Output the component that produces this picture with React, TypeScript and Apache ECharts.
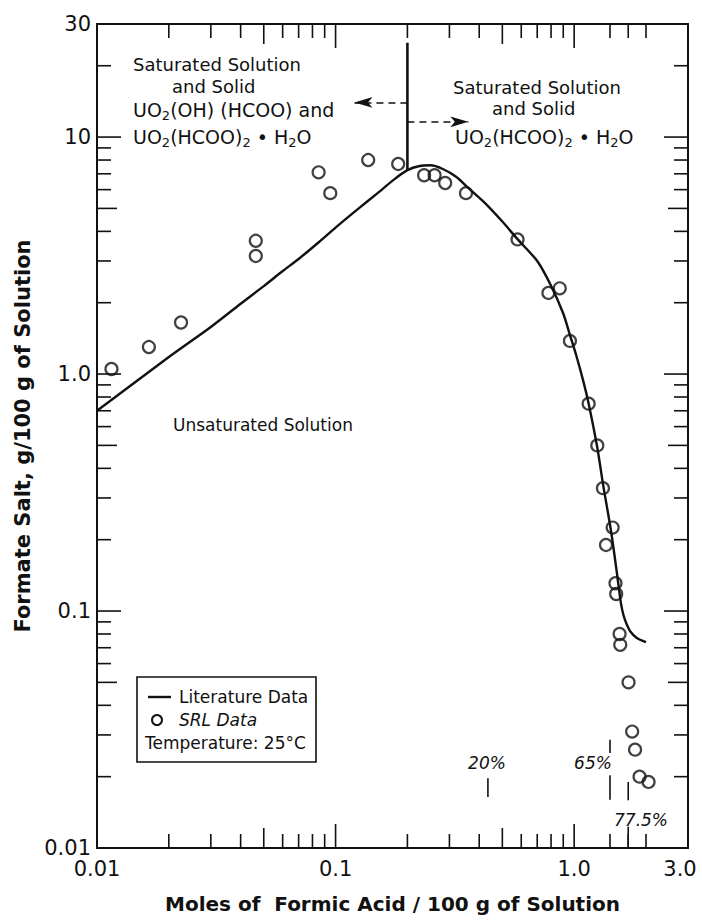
import React, { useEffect, useRef } from "react";
import * as echarts from "echarts";

const FONT = '"DejaVu Sans", "Open Sans", sans-serif';
const INK = "#111111";

// Axis ranges (log-log)
const xMin = 0.01;
const xMax = 3;
const yMin = 0.01;
const yMax = 30;

// Tick labels
const xTickValues = [0.01, 0.1, 1, 3];
const xTickLabels = ["0.01", "0.1", "1.0", "3.0"];
const yTickValues = [0.01, 0.1, 1, 10, 30];
const yTickLabels = ["0.01", "0.1", "1.0", "10", "30"];

// Inward tick marks (kind: 1 minor, 2 half-decade, 3 decade)
const xMinorValues = [0.02, 0.03, 0.04, 0.05, 0.06, 0.07, 0.08, 0.09, 0.1, 0.2, 0.3, 0.4, 0.5, 0.6, 0.7, 0.8, 0.9, 1, 1.413, 1.685, 2];
const xMinorKinds = [1, 1, 1, 2, 1, 1, 1, 1, 3, 1, 1, 1, 2, 1, 1, 1, 1, 3, 1, 1, 1];
const yMinorValues = [0.02, 0.03, 0.04, 0.05, 0.06, 0.07, 0.08, 0.09, 0.1, 0.2, 0.3, 0.4, 0.5, 0.6, 0.7, 0.8, 0.9, 1, 2, 3, 4, 5, 6, 7, 8, 9, 10, 20];
const yMinorKinds = [1, 1, 1, 2, 1, 1, 1, 1, 3, 1, 1, 1, 2, 1, 1, 1, 1, 3, 1, 1, 1, 2, 1, 1, 1, 1, 3, 1];

// Literature data (solid curve)
const litX = [0.01, 0.02, 0.03, 0.04, 0.05, 0.06, 0.07, 0.085, 0.1, 0.125, 0.15, 0.175, 0.2, 0.225, 0.25, 0.28, 0.32, 0.36, 0.42, 0.5, 0.58, 0.7, 0.8, 0.9, 0.96, 1.02, 1.09, 1.15, 1.25, 1.32, 1.43, 1.51, 1.57, 1.61, 1.66, 1.72, 1.83, 2.0];
const litY = [0.7, 1.18, 1.58, 1.98, 2.35, 2.72, 3.06, 3.6, 4.15, 5.0, 5.8, 6.6, 7.25, 7.55, 7.6, 7.35, 6.8, 6.1, 5.3, 4.4, 3.7, 3.0, 2.36, 1.8, 1.46, 1.2, 0.94, 0.75, 0.49, 0.345, 0.215, 0.145, 0.108, 0.096, 0.088, 0.082, 0.077, 0.074];

// SRL data (open circles)
const srlX = [0.0115, 0.0165, 0.0225, 0.0463, 0.0463, 0.0849, 0.095, 0.137, 0.183, 0.235, 0.26, 0.288, 0.352, 0.579, 0.78, 0.87, 0.96, 1.15, 1.25, 1.32, 1.45, 1.36, 1.49, 1.5, 1.55, 1.56, 1.69, 1.75, 1.8, 1.88, 2.05];
const srlY = [1.05, 1.3, 1.65, 3.65, 3.15, 7.1, 5.8, 8.0, 7.7, 6.9, 6.9, 6.4, 5.8, 3.7, 2.2, 2.3, 1.38, 0.75, 0.5, 0.33, 0.225, 0.19, 0.131, 0.118, 0.08, 0.072, 0.05, 0.031, 0.026, 0.02, 0.019];

// Phase boundary (vertical line) and arrows
const boundaryX = [0.2, 0.2];
const boundaryY = [7.25, 25];
const arrowFromX = [0.2, 0.2];
const arrowToX = [0.12, 0.36];
const arrowY = [14, 11.6];

// Weight-percent marker segments
const wtX = [0.435, 1.413, 1.413, 1.685, 1.685];
const wtYTop = [0.0197, 0.0286, 0.0203, 0.019, 0.0123];
const wtYBottom = [0.0164, 0.0252, 0.016, 0.0159, 0.01];

const tickLen = (k: number) => (k === 3 ? 24 : k === 2 ? 20 : 14);

const fmt = (vals: number[], labels: string[], maxV: number) => (v: number) => {
  const i = vals.findIndex((t) => Math.abs(Math.log10(t) - Math.log10(v)) < 1e-6);
  if (i < 0) return "";
  return Math.abs(v - maxV) < 1e-9 ? "{r|" + labels[i] + "}" : labels[i];
};

const rich = {
  n: { fontSize: 19, fontFamily: FONT, fill: INK, lineHeight: 24 },
  s: { fontSize: 13, fontFamily: FONT, fill: INK, lineHeight: 12, verticalAlign: "bottom" },
};

const txt = (x: number, y: number, text: string, extra: any = {}) => ({
  type: "text",
  x,
  y,
  silent: true,
  style: {
    text,
    fill: INK,
    fontSize: 18,
    fontFamily: FONT,
    align: "left",
    verticalAlign: "middle",
    textAlign: "left",
    textVerticalAlign: "middle",
    ...extra,
  },
});

export default function App() {
  const ref = useRef<HTMLDivElement>(null);
  useEffect(() => {
    document.body.style.margin = "0";
    const chart = echarts.init(ref.current!, null, { renderer: "svg" });
    const option: any = {
      animation: false,
      backgroundColor: "#ffffff",
      grid: {
        left: 97,
        right: 14,
        top: 24,
        bottom: 72,
        show: true,
        borderColor: INK,
        borderWidth: 2,
        backgroundColor: "transparent",
        containLabel: false,
        outerBoundsMode: "none",
      },
      xAxis: {
        type: "log",
        logBase: 10,
        min: xMin,
        max: xMax,
        axisLine: { show: false },
        axisTick: { show: false },
        splitLine: { show: false },
        minorTick: { show: false },
        axisLabel: {
          formatter: fmt(xTickValues, xTickLabels, xMax),
          fontSize: 21,
          color: INK,
          fontFamily: FONT,
          margin: 10,
          showMinLabel: true,
          showMaxLabel: true,
          hideOverlap: false,
          rich: { r: { fontSize: 21, color: INK, fontFamily: FONT, padding: [0, 16, 0, 0] } },
        },
        name: "Moles of  Formic Acid / 100 g of Solution",
        nameLocation: "middle",
        nameGap: 46,
        nameTextStyle: { fontSize: 20, fontWeight: "bold", color: INK, fontFamily: FONT },
      },
      yAxis: {
        type: "log",
        logBase: 10,
        min: yMin,
        max: yMax,
        axisLine: { show: false },
        axisTick: { show: false },
        splitLine: { show: false },
        minorTick: { show: false },
        axisLabel: {
          formatter: fmt(yTickValues, yTickLabels, -1),
          fontSize: 21,
          color: INK,
          fontFamily: FONT,
          margin: 6,
          showMinLabel: true,
          showMaxLabel: true,
          hideOverlap: false,
        },
        name: "Formate Salt, g/100 g of Solution",
        nameLocation: "middle",
        nameGap: 62,
        nameRotate: 90,
        nameTextStyle: { fontSize: 21, fontWeight: "bold", color: INK, fontFamily: FONT },
      },
      series: [
        {
          type: "custom",
          silent: true,
          z: 3,
          data: xMinorValues.map((v, i) => [v, 1, xMinorKinds[i]]),
          encode: { x: 0, y: 1 },
          renderItem: (_p: any, api: any) => {
            const v = api.value(0);
            const len = tickLen(api.value(2));
            const b = api.coord([v, yMin]);
            const t = api.coord([v, yMax]);
            const st = { stroke: INK, lineWidth: 1.6 };
            return {
              type: "group",
              children: [
                { type: "line", shape: { x1: b[0], y1: b[1], x2: b[0], y2: b[1] - len }, style: st },
                { type: "line", shape: { x1: t[0], y1: t[1], x2: t[0], y2: t[1] + len }, style: st },
              ],
            };
          },
        },
        {
          type: "custom",
          silent: true,
          z: 3,
          data: yMinorValues.map((v, i) => [1, v, yMinorKinds[i]]),
          encode: { x: 0, y: 1 },
          renderItem: (_p: any, api: any) => {
            const v = api.value(1);
            const len = tickLen(api.value(2));
            const l = api.coord([xMin, v]);
            const r = api.coord([xMax, v]);
            const st = { stroke: INK, lineWidth: 1.6 };
            return {
              type: "group",
              children: [
                { type: "line", shape: { x1: l[0], y1: l[1], x2: l[0] + len, y2: l[1] }, style: st },
                { type: "line", shape: { x1: r[0], y1: r[1], x2: r[0] - len, y2: r[1] }, style: st },
              ],
            };
          },
        },
        {
          type: "custom",
          silent: true,
          z: 3,
          data: wtX.map((x, i) => [x, wtYTop[i], wtYBottom[i]]),
          encode: { x: 0, y: [1, 2] },
          renderItem: (_p: any, api: any) => {
            const a = api.coord([api.value(0), api.value(1)]);
            const b = api.coord([api.value(0), api.value(2)]);
            return {
              type: "line",
              shape: { x1: a[0], y1: a[1], x2: b[0], y2: b[1] },
              style: { stroke: INK, lineWidth: 1.6 },
            };
          },
        },
        {
          name: "Literature Data",
          type: "line",
          data: litX.map((x, i) => [x, litY[i]]),
          symbol: "none",
          showSymbol: false,
          smooth: 0.25,
          lineStyle: { color: INK, width: 2.4 },
          silent: true,
          z: 4,
        },
        {
          name: "Boundary",
          type: "line",
          data: boundaryX.map((x, i) => [x, boundaryY[i]]),
          symbol: "none",
          showSymbol: false,
          lineStyle: { color: INK, width: 2.6 },
          silent: true,
          z: 4,
          markLine: {
            silent: true,
            animation: false,
            symbol: ["none", "arrow"],
            symbolSize: [8, 18],
            label: { show: false },
            lineStyle: { color: INK, width: 1.6, type: [7, 5] },
            data: arrowFromX.map((x, i) => [
              { coord: [x, arrowY[i]] },
              { coord: [arrowToX[i], arrowY[i]] },
            ]),
          },
        },
        {
          name: "SRL Data",
          type: "scatter",
          data: srlX.map((x, i) => [x, srlY[i]]),
          symbol: "circle",
          symbolSize: 12,
          itemStyle: { color: "transparent", borderColor: INK, borderWidth: 2.2 },
          silent: true,
          z: 5,
        },
      ],
      graphic: [
        // upper-left region label
        txt(133, 64.5, "Saturated Solution", { lineHeight: 18 }),
        txt(172, 86, "and Solid", { lineHeight: 18 }),
        txt(133, 110, "{n|UO}{s|2}{n|(OH) (HCOO) and}", { rich }),
        txt(133, 137, "{n|UO}{s|2}{n|(HCOO)}{s|2}{n| • H}{s|2}{n|O}", { rich }),
        // upper-right region label
        txt(453, 87, "Saturated Solution", { lineHeight: 18 }),
        txt(492, 108.5, "and Solid", { lineHeight: 18 }),
        txt(455, 137, "{n|UO}{s|2}{n|(HCOO)}{s|2}{n| • H}{s|2}{n|O}", { rich }),
        // lower region label
        txt(173, 425, "Unsaturated Solution", { fontSize: 17 }),
        // weight percent labels
        txt(487, 763, "20%", { fontSize: 17, fontStyle: "italic", align: "center", textAlign: "center" }),
        txt(593, 763, "65%", { fontSize: 17, fontStyle: "italic", align: "center", textAlign: "center" }),
        txt(641, 820, "77.5%", { fontSize: 17, fontStyle: "italic", align: "center", textAlign: "center" }),
        // legend box
        {
          type: "rect",
          silent: true,
          shape: { x: 137, y: 677, width: 179, height: 85 },
          style: { fill: "#ffffff", stroke: INK, lineWidth: 1.6 },
          z: 10,
        },
        {
          type: "line",
          silent: true,
          shape: { x1: 148, y1: 697, x2: 171, y2: 697 },
          style: { stroke: INK, lineWidth: 2.4 },
          z: 11,
        },
        {
          type: "circle",
          silent: true,
          shape: { cx: 157, cy: 720, r: 5 },
          style: { fill: "transparent", stroke: INK, lineWidth: 2 },
          z: 11,
        },
        { ...txt(179, 697, "Literature Data", { fontSize: 17 }), z: 11 },
        { ...txt(179, 720, "SRL Data", { fontSize: 17, fontStyle: "italic" }), z: 11 },
        { ...txt(145, 743, "Temperature: 25°C", { fontSize: 17 }), z: 11 },
      ],
    };
    chart.setOption(option);
    return () => chart.dispose();
  }, []);
  return <div ref={ref} style={{ width: 702, height: 920, background: "#ffffff" }} />;
}
